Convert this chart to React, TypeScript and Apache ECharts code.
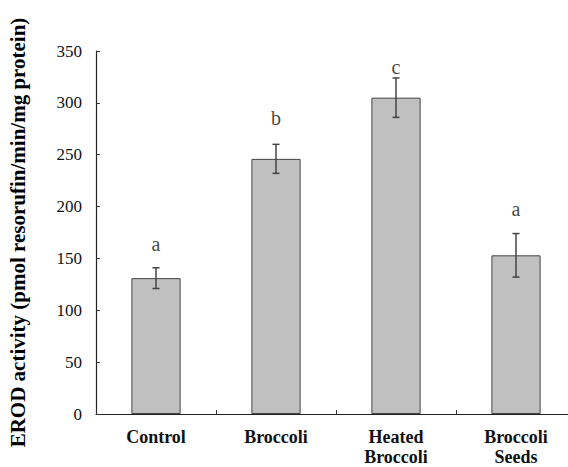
import React, { useEffect, useRef } from "react";
import * as echarts from "echarts";

const categories = ["Control", "Broccoli", "Heated\nBroccoli", "Broccoli\nSeeds"];
const means = [131, 246, 305, 153];
const errors = [10, 14, 19, 21];
const letters = ["a", "b", "c", "a"];
const letterValues = [164, 285, 335, 198];
const yTicks = [0, 50, 100, 150, 200, 250, 300, 350];

const SERIF = '"Liberation Serif", "Times New Roman", Times, serif';

export default function App() {
  const ref = useRef<HTMLDivElement>(null);
  useEffect(() => {
    if (!ref.current) return;
    const chart = echarts.init(ref.current, undefined, { renderer: "svg" });
    chart.setOption({
      animation: false,
      backgroundColor: "#ffffff",
      grid: { left: 96, right: -8, top: 51, bottom: 53, containLabel: false, outerBoundsMode: "none" },
      xAxis: {
        type: "category",
        data: categories,
        axisLine: { show: true, lineStyle: { color: "#222", width: 1.2 } },
        axisTick: { show: true, inside: true, length: 4, alignWithLabel: false, lineStyle: { color: "#333" } },
        axisLabel: {
          fontFamily: SERIF,
          fontWeight: "bold",
          fontSize: 18,
          color: "#111",
          margin: 13,
          lineHeight: 20,
          interval: 0,
        },
      },
      yAxis: {
        type: "value",
        min: yTicks[0],
        max: yTicks[yTicks.length - 1],
        interval: 50,
        splitLine: { show: false },
        axisLine: { show: true, lineStyle: { color: "#222", width: 1.2 } },
        axisTick: { show: true, inside: true, length: 4, lineStyle: { color: "#333" } },
        axisLabel: { fontFamily: SERIF, fontSize: 17, color: "#111", margin: 14 },
        name: "EROD activity (pmol resorufin/min/mg protein)",
        nameLocation: "middle",
        nameGap: 68,
        nameTextStyle: { fontFamily: SERIF, fontWeight: "bold", fontSize: 21, color: "#000" },
      },
      series: [
        {
          type: "bar",
          data: means,
          barWidth: "41%",
          itemStyle: { color: "#c0c0c0", borderColor: "#444", borderWidth: 1 },
          silent: true,
        },
        {
          type: "custom",
          data: means.map((m, i) => [i, m - errors[i], m + errors[i]]),
          renderItem: (params: any, api: any) => {
            const x = api.value(0);
            const lo = api.coord([x, api.value(1)]);
            const hi = api.coord([x, api.value(2)]);
            const cw = 3.5;
            const style = { stroke: "#444", lineWidth: 1.5 };
            return {
              type: "group",
              children: [
                { type: "line", shape: { x1: lo[0], y1: lo[1], x2: hi[0], y2: hi[1] }, style },
                { type: "line", shape: { x1: hi[0] - cw, y1: hi[1], x2: hi[0] + cw, y2: hi[1] }, style },
                { type: "line", shape: { x1: lo[0] - cw, y1: lo[1], x2: lo[0] + cw, y2: lo[1] }, style },
              ],
            };
          },
          z: 5,
          silent: true,
        },
        {
          type: "scatter",
          data: letterValues.map((v, i) => [i, v]),
          symbolSize: 0,
          silent: true,
          label: {
            show: true,
            position: "inside",
            formatter: (p: any) => letters[p.dataIndex],
            fontFamily: SERIF,
            fontSize: 20,
            color: "#111",
          },
        },
      ],
    });
    return () => chart.dispose();
  }, []);
  return <div ref={ref} style={{ width: 568, height: 467, position: "absolute", left: 0, top: 0 }} />;
}
